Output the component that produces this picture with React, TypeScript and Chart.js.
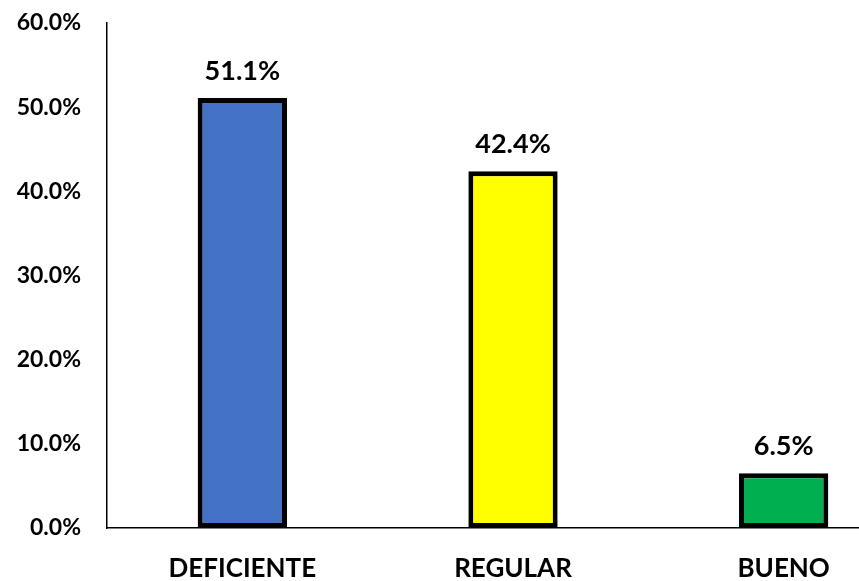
import React, { useEffect, useRef } from "react";
import { Chart, registerables } from "chart.js";

Chart.register(...registerables);

const categories = ["DEFICIENTE", "REGULAR", "BUENO"];
const percentages = [51.1, 42.4, 6.5];
const barColors = ["#4472C4", "#FFFF00", "#00B050"];
const yTicks = [0, 10, 20, 30, 40, 50, 60];

const FONT = "Lato, 'Noto Sans', sans-serif";

const valueLabels = {
  id: "valueLabels",
  afterDatasetsDraw(chart: any) {
    const ctx = chart.ctx;
    const meta = chart.getDatasetMeta(0);
    ctx.save();
    ctx.font = `bold 27px ${FONT}`;
    ctx.fillStyle = "#000";
    ctx.textAlign = "center";
    ctx.textBaseline = "middle";
    meta.data.forEach((bar: any, i: number) => {
      ctx.fillText(percentages[i].toFixed(1) + "%", bar.x, bar.y - 27);
    });
    ctx.restore();
  },
};

export default function App() {
  const ref = useRef<HTMLCanvasElement>(null);

  useEffect(() => {
    document.body.style.margin = "0";
    const chart = new Chart(ref.current!, {
      type: "bar",
      data: {
        labels: categories,
        datasets: [
          {
            data: percentages,
            backgroundColor: barColors,
            borderColor: "#000",
            borderWidth: 5,
            borderSkipped: false,
            categoryPercentage: 1,
            barPercentage: 0.33,
          },
        ],
      },
      options: {
        responsive: false,
        animation: false,
        layout: { padding: { top: 23, left: 0, right: 3, bottom: 0 } },
        plugins: { legend: { display: false }, tooltip: { enabled: false } },
        scales: {
          x: {
            grid: { display: false, drawTicks: false },
            border: { display: true, color: "#000", width: 1.5 },
            ticks: {
              color: "#000",
              font: { family: FONT, weight: "bold", size: 26 },
              padding: 25,
            },
            afterFit(scale: any) {
              scale.height = 53;
            },
          },
          y: {
            min: 0,
            max: 60,
            grid: { display: false, drawTicks: false },
            border: { display: true, color: "#000", width: 1.5 },
            afterBuildTicks(scale: any) {
              scale.ticks = yTicks.map((v) => ({ value: v }));
            },
            ticks: {
              color: "#000",
              font: { family: FONT, weight: "bold", size: 23 },
              padding: 26,
              callback: (v: any) => Number(v).toFixed(1) + "%",
            },
            afterFit(scale: any) {
              scale.width = 107;
              scale.paddingTop = 0;
              scale.paddingBottom = 0;
            },
          },
        },
      },
      plugins: [valueLabels],
    });
    return () => chart.destroy();
  }, []);

  return (
    <div
      style={{
        position: "absolute",
        left: 0,
        top: 0,
        width: 859,
        height: 581,
        overflow: "hidden",
        background: "#fff",
      }}
    >
      <canvas ref={ref} width={922} height={581} />
    </div>
  );
}
